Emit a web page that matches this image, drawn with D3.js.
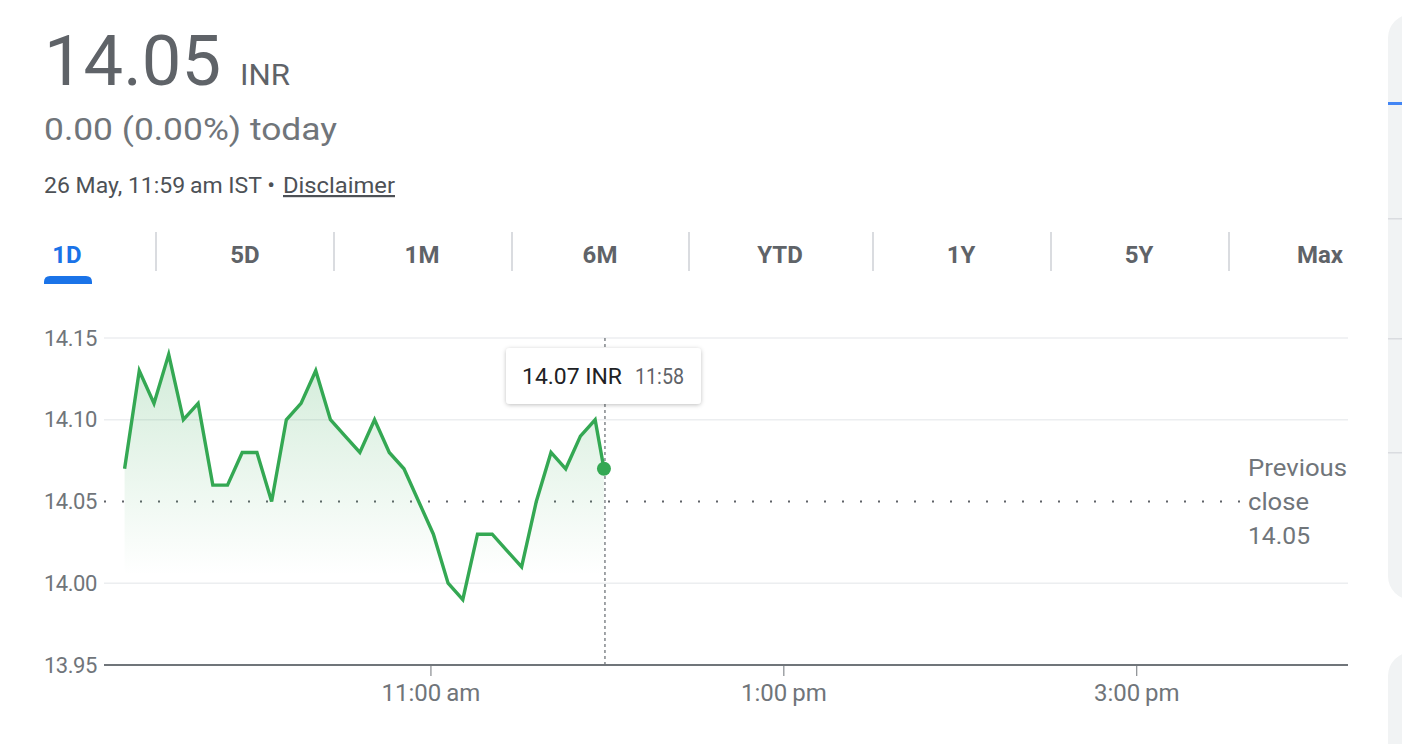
<!DOCTYPE html>
<html><head><meta charset="utf-8">
<script src="https://cdn.jsdelivr.net/npm/d3@7"></script>
<style>
html,body{margin:0;padding:0;background:#fff;}
svg{display:block;font-family:Roboto,Arial,sans-serif;}
</style></head>
<body>
<svg id="c" width="1402" height="744"></svg>
<script>
// ---- data ----
const times = ["09:16","09:21","09:26","09:31","09:36","09:41","09:46","09:51","09:56","10:01",
  "10:06","10:11","10:16","10:21","10:26","10:31","10:36","10:41","10:46","10:51",
  "10:56","11:01","11:06","11:11","11:16","11:21","11:26","11:31","11:36","11:41",
  "11:46","11:51","11:56","11:59"];
const prices = [14.07,14.13,14.11,14.14,14.10,14.11,14.06,14.06,14.08,14.08,
  14.05,14.10,14.11,14.13,14.10,14.09,14.08,14.10,14.08,14.07,
  14.05,14.03,14.00,13.99,14.03,14.03,14.02,14.01,14.05,14.08,
  14.07,14.09,14.10,14.07];
const yTicks = [13.95,14.00,14.05,14.10,14.15];
const xTicks = ["11:00","13:00","15:00"];
const xDomain = ["09:09","16:12"];
const prevClose = 14.05;
const tooltipTime = "11:58";
const tabs = ["1D","5D","1M","6M","YTD","1Y","5Y","Max"];
const tabCenters = [67,245,422,600,780,961,1139,1320];
const tabSeps = [156,334,512,689,873,1051,1229];

const parse = d3.timeParse("%H:%M");
const data = times.map((t,i)=>({t:parse(t), v:prices[i]}));

const svg = d3.select("#c");
const gray = "#70757a";

// ---- header ----
svg.append("text").attr("x",44).attr("y",85).attr("font-size",70).attr("fill","#5f6368")
  .attr("textLength",177).attr("lengthAdjust","spacingAndGlyphs").text("14.05");
svg.append("text").attr("x",240).attr("y",85).attr("font-size",30).attr("fill","#5f6368")
  .attr("textLength",50).attr("lengthAdjust","spacingAndGlyphs").text("INR");
svg.append("text").attr("x",44).attr("y",140).attr("font-size",32).attr("fill",gray)
  .attr("textLength",293).attr("lengthAdjust","spacingAndGlyphs").text("0.00 (0.00%) today");
svg.append("text").attr("x",44).attr("y",193).attr("font-size",22).attr("fill","#4d5156")
  .attr("textLength",231).attr("lengthAdjust","spacingAndGlyphs").text("26 May, 11:59\u2009am IST •");
svg.append("text").attr("x",283).attr("y",193).attr("font-size",22).attr("fill","#4d5156")
  .attr("text-decoration","underline")
  .attr("textLength",112).attr("lengthAdjust","spacingAndGlyphs").text("Disclaimer");

// ---- tabs ----
tabs.forEach((t,i)=>{
  svg.append("text").attr("x",tabCenters[i]).attr("y",263).attr("text-anchor","middle")
    .attr("font-size",24).attr("font-weight","bold").attr("fill", i===0?"#1a73e8":"#5f6368").text(t);
});
tabSeps.forEach(x=>{
  svg.append("line").attr("x1",x).attr("x2",x).attr("y1",232).attr("y2",271).attr("stroke","#dadce0").attr("stroke-width",2);
});
svg.append("path").attr("d","M44,284 L44,282 Q44,276 50,276 L86,276 Q92,276 92,282 L92,284 Z").attr("fill","#1a73e8");

// ---- right side card ----
svg.append("rect").attr("x",1388).attr("y",14).attr("width",60).attr("height",586).attr("rx",24).attr("fill","#f1f3f4");
svg.append("rect").attr("x",1388).attr("y",102).attr("width",14).attr("height",3).attr("fill","#4285f4");
[218,338,452].forEach(y=>svg.append("rect").attr("x",1388).attr("y",y).attr("width",14).attr("height",1.5).attr("fill","#dadce0"));
svg.append("rect").attr("x",1388).attr("y",652).attr("width",60).attr("height",200).attr("rx",24).attr("fill","#f1f3f4");

// ---- scales ----
const x = d3.scaleTime().domain(xDomain.map(parse)).range([104,1348]);
const y = d3.scaleLinear().domain([13.95,14.15]).range([665,338]);

// gridlines
yTicks.forEach(v=>{
  if (v===13.95 || v===prevClose) return;
  svg.append("line").attr("x1",104).attr("x2",1348).attr("y1",y(v)).attr("y2",y(v)).attr("stroke","#eceef0").attr("stroke-width",1.5);
});
// y labels
yTicks.forEach(v=>{
  svg.append("text").attr("x",44).attr("y",y(v)).attr("dy","0.35em").attr("font-size",22).attr("fill",gray)
    .attr("letter-spacing","-0.5").text(d3.format(".2f")(v));
});

// previous close
svg.append("line").attr("x1",104).attr("x2",1240).attr("y1",y(prevClose)).attr("y2",y(prevClose))
  .attr("stroke","#5f6368").attr("stroke-width",2).attr("stroke-dasharray","2,16");
const pc = svg.append("g").attr("font-size",24).attr("fill",gray);
[["Previous",99],["close",61],[d3.format(".2f")(prevClose),62]].forEach(([s,w],i)=>{
  pc.append("text").attr("x",1248).attr("y",y(prevClose)-34+34*i).attr("dy","0.35em")
    .attr("textLength",w).attr("lengthAdjust","spacingAndGlyphs").text(s);
});

// area gradient
const defs = svg.append("defs");
const gr = defs.append("linearGradient").attr("id","g").attr("gradientUnits","userSpaceOnUse")
  .attr("x1",0).attr("x2",0).attr("y1",y(14.14)).attr("y2",575);
gr.append("stop").attr("offset",0).attr("stop-color","#34a853").attr("stop-opacity",0.22);
gr.append("stop").attr("offset",1).attr("stop-color","#34a853").attr("stop-opacity",0);
const area = d3.area().x(d=>x(d.t)).y0(575).y1(d=>y(d.v));
svg.append("path").datum(data).attr("d",area).attr("fill","url(#g)");

// x axis
const xa = svg.append("g").attr("transform","translate(0,665)")
  .call(d3.axisBottom(x).tickValues(xTicks.map(parse)).tickSize(11).tickPadding(8)
    .tickFormat(d=>d3.timeFormat("%-I:%M")(d)+"\u2009"+(d.getHours()<12?"am":"pm")));
xa.select(".domain").attr("stroke",gray).attr("stroke-width",2).attr("d","M104,0H1348");
xa.selectAll(".tick line").attr("stroke",gray).attr("stroke-width",1);
xa.selectAll(".tick text").attr("font-size",24).attr("fill",gray)
  .attr("font-family","Roboto,Arial,sans-serif");

// hover line
const last = data[data.length-1];
svg.append("line").attr("x1",x(last.t)+1).attr("x2",x(last.t)+1).attr("y1",338).attr("y2",665)
  .attr("stroke",gray).attr("stroke-width",1.3).attr("stroke-dasharray","3,3");

// line
svg.append("path").datum(data).attr("d",d3.line().x(d=>x(d.t)).y(d=>y(d.v)))
  .attr("fill","none").attr("stroke","#34a853").attr("stroke-width",3.4).attr("stroke-linejoin","miter");
svg.append("circle").attr("cx",x(last.t)).attr("cy",y(last.v)).attr("r",7).attr("fill","#34a853");

// tooltip
const f = defs.append("filter").attr("id","sh").attr("x","-20%").attr("y","-30%").attr("width","140%").attr("height","170%");
f.append("feDropShadow").attr("dx",0).attr("dy",1).attr("stdDeviation",2).attr("flood-color","#000").attr("flood-opacity",0.25);
svg.append("rect").attr("x",506).attr("y",348).attr("width",195).attr("height",56).attr("rx",4).attr("fill","#fff").attr("filter","url(#sh)");
svg.append("text").attr("x",522).attr("y",384).attr("font-size",22).attr("fill","#202124")
  .attr("textLength",100).attr("lengthAdjust","spacingAndGlyphs").text(d3.format(".2f")(last.v)+" INR");
svg.append("text").attr("x",635).attr("y",384).attr("font-size",22).attr("fill","#5f6368")
  .attr("textLength",49).attr("lengthAdjust","spacingAndGlyphs").text(tooltipTime);
</script>
</body></html>
